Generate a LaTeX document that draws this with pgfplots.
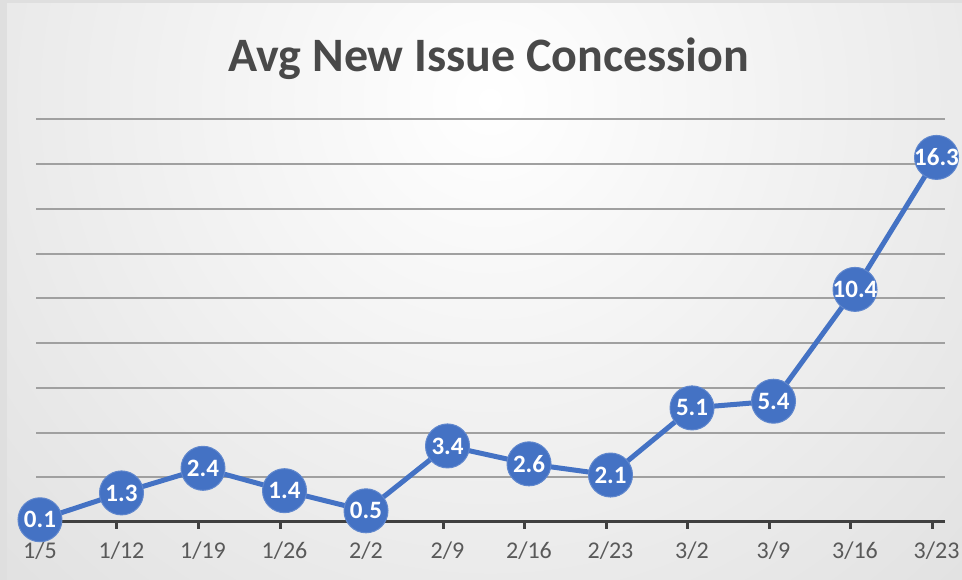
\documentclass[border=0pt]{standalone}
\usepackage{fontspec}
\setmainfont{Carlito}
\usepackage{pgfplots}
\pgfplotsset{compat=1.18}
\definecolor{ser}{HTML}{4472C4}
\definecolor{gridc}{HTML}{A0A0A0}
\definecolor{axc}{HTML}{404040}
\definecolor{tickc}{HTML}{595959}
\definecolor{bgout}{HTML}{BEBEBE}
\begin{document}
\begin{tikzpicture}[x=1pt,y=1pt]
\useasboundingbox (0,0) rectangle (962,580);
\fill[gray!25] (0,0) rectangle (962,580);
\begin{scope}
\clip (7,0) rectangle (962,576);
\fill[bgout] (7,0) rectangle (962,576);
\shade[inner color=white, outer color=bgout] (490,480) circle (1500);
\end{scope}
\node[anchor=base, font=\bfseries\fontsize{48}{50}\selectfont, text=axc!95] at (489,508) {Avg New Issue Concession};
\begin{axis}[
  at={(36pt,58pt)}, anchor=south west,
  scale only axis, width=909pt, height=402.6pt,
  xmin=-0.049, xmax=11.104, ymin=0, ymax=18,
  clip=false,
  separate axis lines,
  axis x line*=bottom, axis y line*=left,
  y axis line style={draw=none},
  x axis line style={line width=3pt, draw=axc},
  xtick={0,...,11},
  xticklabels={1/5,1/12,1/19,1/26,2/2,2/9,2/16,2/23,3/2,3/9,3/16,3/23},
  xtick style={draw=axc, line width=3pt, xshift=-4.5pt},
  x tick label style={font=\fontsize{24}{24}\selectfont, text=tickc, yshift=-9pt},
  tick align=outside, major tick length=7pt,
  ytick={2,4,...,18}, yticklabels={}, ytick style={draw=none},
  ymajorgrids, grid style={draw=gridc, line width=2pt},
]
\addplot[color=ser, line width=5pt, mark=*, mark size=22pt,
  mark options={fill=ser, draw=ser!85!white, line width=1pt},
  point meta=explicit symbolic,
  nodes near coords,
  every node near coord/.append style={anchor=center, text=white, font=\bfseries\fontsize{25}{25}\selectfont}]
coordinates {
(0,0.1) [0.1]
(1,1.3) [1.3]
(2,2.4) [2.4]
(3,1.4) [1.4]
(4,0.5) [0.5]
(5,3.4) [3.4]
(6,2.6) [2.6]
(7,2.1) [2.1]
(8,5.1) [5.1]
(9,5.4) [5.4]
(10,10.4) [10.4]
(11,16.3) [16.3]
};
\end{axis}
\end{tikzpicture}
\end{document}
